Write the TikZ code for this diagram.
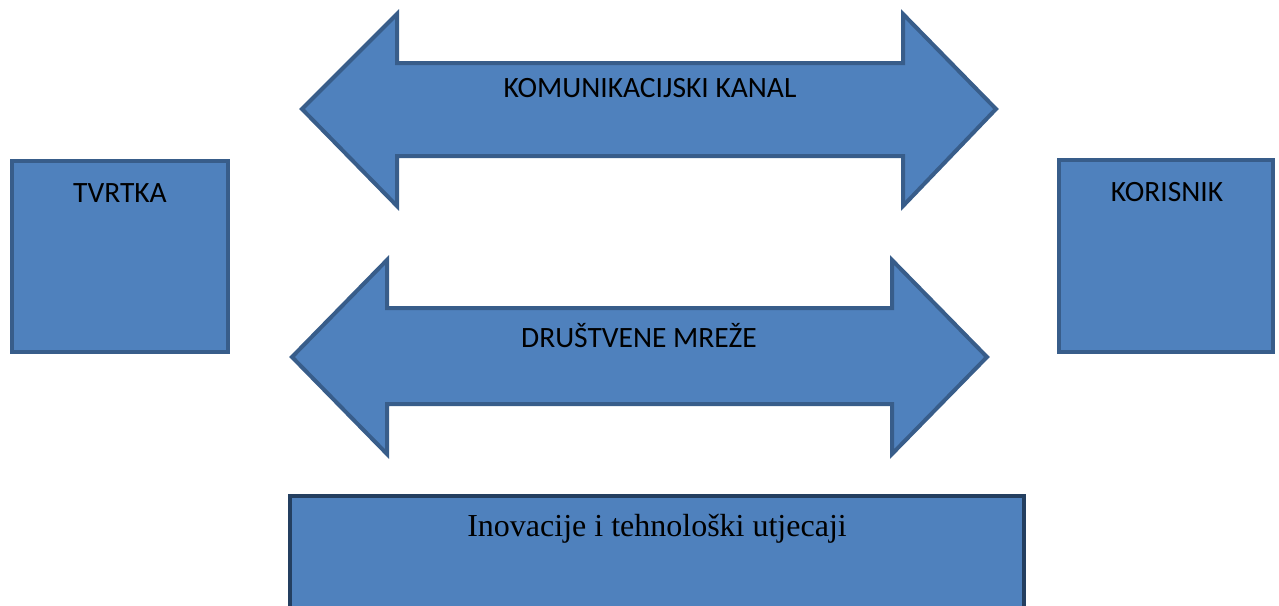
\documentclass[tikz,border=0pt]{standalone}
\usepackage{fontspec}
\newfontfamily\calib{Carlito}
\newfontfamily\timesf{Liberation Serif}
\definecolor{boxfill}{HTML}{4F81BD}
\definecolor{boxline}{HTML}{385D8A}
\definecolor{darkline}{HTML}{243F60}
\tikzset{
  shapestyle/.style={fill=boxfill, draw=boxline, line width=4pt, line join=miter},
  lbl/.style={font=\calib\fontsize{29.5}{32}\selectfont, text=black, inner sep=0pt},
  serif/.style={font=\timesf\fontsize{32}{36}\selectfont, text=black, inner sep=0pt}
}
\begin{document}
\begin{tikzpicture}[x=1pt,y=-1pt]
\useasboundingbox (0,0) rectangle (1279,605);
\begin{scope}
\clip (0,0) rectangle (1279,605);
% boxes
\draw[shapestyle] (12,161) rectangle (228,352);
\draw[shapestyle] (1059,160) rectangle (1273,352);
% top double arrow
\draw[shapestyle] (302,109) -- (397,14) -- (397,63) -- (903,63) -- (903,14) -- (996,109)
  -- (903,206) -- (903,156) -- (397,156) -- (397,206) -- cycle;
% middle double arrow
\draw[shapestyle] (292,357) -- (387,260) -- (387,308) -- (892,308) -- (892,260) -- (987,357)
  -- (892,454) -- (892,404) -- (387,404) -- (387,454) -- cycle;
% bottom box
\draw[shapestyle, draw=darkline] (290,496) rectangle (1024,640);
\end{scope}
\node[lbl] (tvrtka) at (120,193) {TVRTKA};
\node[lbl] (korisnik) at (1167,192) {KORISNIK};
\node[lbl] (kanal) at (650,88) {KOMUNIKACIJSKI KANAL};
\node[lbl] (mreze) at (639,336) {DRUŠTVENE MREŽE};
\node[serif] (inov) at (657,529) {Inovacije i tehnološki utjecaji};
\end{tikzpicture}
\end{document}
